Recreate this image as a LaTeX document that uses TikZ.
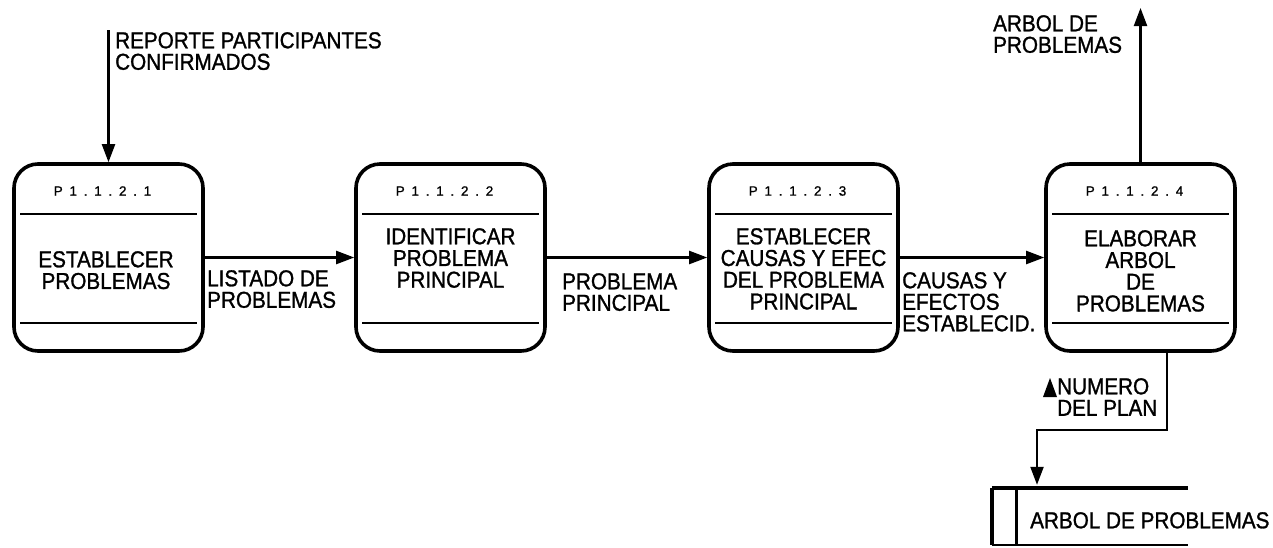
\documentclass[tikz,border=0pt]{standalone}
\usepackage{fontspec}
\setmainfont[FakeStretch=0.9,FakeBold=1.2]{Liberation Sans}
\newfontfamily\idfont[LetterSpace=50,FakeBold=1]{Liberation Sans}
\usetikzlibrary{arrows.meta,calc}
\begin{document}
\begin{tikzpicture}[x=1pt,y=-1pt,
  proc/.style={draw, line width=3.6pt, rounded corners=24pt, minimum width=189pt, minimum height=187pt, inner sep=0pt},
  flow/.style={line width=2.2pt, -{Triangle[length=18pt,width=13pt]}},
  lbl/.style={font=\fontsize{23}{21.5}\selectfont, align=left, inner sep=0pt, anchor=north west},
  ptxt/.style={font=\fontsize{23}{21.7}\selectfont, align=center, inner sep=0pt, anchor=north},
  pid/.style={font=\idfont\fontsize{13.5}{15}\selectfont, inner sep=0pt},
  divider/.style={line width=2.4pt},
  storeline/.style={line width=4pt}
]
\useasboundingbox (0,0) rectangle (1273,547);

% processes
\node[proc] (p1) at (108.5,257.5) {};
\node[proc] (p2) at (450.5,257.5) {};
\node[proc] (p3) at (803.5,257.5) {};
\node[proc] (p4) at (1140.5,257.5) {};

\foreach \p/\n in {p1/1,p2/2,p3/3,p4/4}{
  \draw[divider] ($(\p.west)+(8,-43.5)$) -- ($(\p.east)+(-8,-43.5)$);
  \draw[divider] ($(\p.west)+(8,65.5)$) -- ($(\p.east)+(-8,65.5)$);
  \node[pid] (\p id) at ($(\p.center)+(-6,-66.5)$) {P1.1.2.\n};
}

\node[ptxt] (p1t) at (106,251) {ESTABLECER\\PROBLEMAS};
\node[ptxt] (p2t) at (450.5,228) {IDENTIFICAR\\PROBLEMA\\PRINCIPAL};
\node[ptxt] (p3t) at (803.5,228) {ESTABLECER\\CAUSAS Y EFEC\\DEL PROBLEMA\\PRINCIPAL};
\node[ptxt] (p4t) at (1140.5,230) {ELABORAR\\ARBOL\\DE\\PROBLEMAS};

% flows
\coordinate (in) at (108.5,30);
\coordinate (out) at (1140.5,8);
\draw[flow] (in) -- (p1.north);
\draw[flow] (p1.east) -- (p2.west);
\draw[flow] (p2.east) -- (p3.west);
\draw[flow] (p3.east) -- (p4.west);
\draw[flow] (p4.north) -- (out);

\node[lbl] (lin) at (115,32) {REPORTE PARTICIPANTES\\CONFIRMADOS};
\node[lbl] (lout) at (993,15) {ARBOL DE\\PROBLEMAS};
\node[lbl] (l12) at (207,270) {LISTADO DE\\PROBLEMAS};
\node[lbl] (l23) at (562,273) {PROBLEMA\\PRINCIPAL};
\node[lbl] (l34) at (902,272) {CAUSAS Y\\EFECTOS\\ESTABLECID.};

% data store
\node[minimum width=196pt, minimum height=57pt, inner sep=0pt] (ds) at (1090,516.5) {};
\draw[storeline] (ds.north west) -- (ds.north east);
\draw[storeline] (ds.north west) -- (ds.south west);
\draw[line width=3pt] ($(ds.north west)+(25,0)$) -- ($(ds.south west)+(25,0)$);
\draw[line width=2.4pt] (ds.south west) -- (ds.south east);
\node[lbl] (dst) at (1030,512) {ARBOL DE PROBLEMAS};

\coordinate (b1) at ($(p4.south)+(26.5,0)$);
\coordinate (b3) at (1037,430);
\draw[flow, shorten >=3pt] (b1) |- (b3) -- (b3 |- ds.north);

\fill (1043,397) -- (1050,378) -- (1057,397) -- cycle;
\node[lbl] (lnum) at (1057,378) {NUMERO\\DEL PLAN};
\end{tikzpicture}
\end{document}
